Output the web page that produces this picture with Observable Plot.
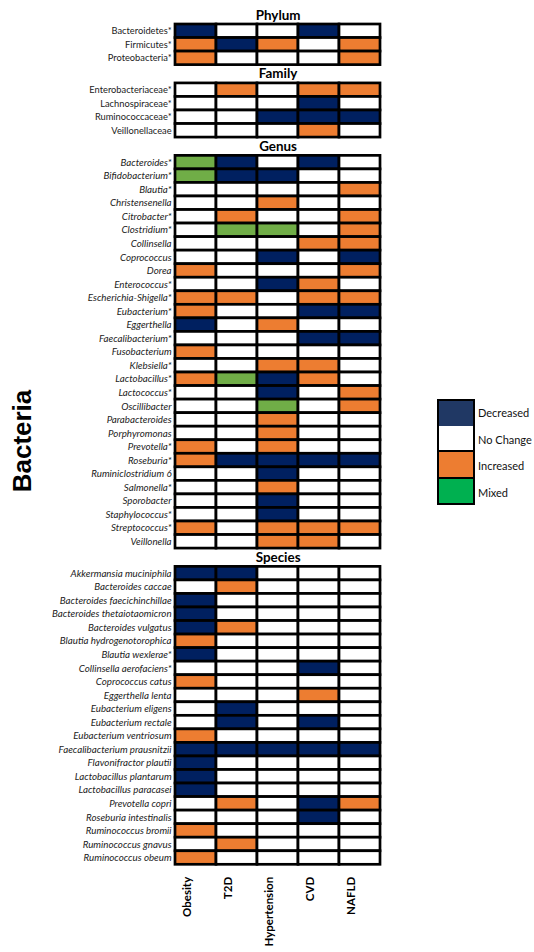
<!DOCTYPE html>
<html>
<head>
<meta charset="utf-8">
<script src="https://cdn.jsdelivr.net/npm/d3@7"></script>
<script src="https://cdn.jsdelivr.net/npm/@observablehq/plot@0.6"></script>
<style>
  html, body { margin: 0; padding: 0; background: #fff; }
  #wrap { position: relative; width: 534px; height: 952px; overflow: hidden; font-family: Lato, "Open Sans", sans-serif; }
  #chart { position: absolute; left: 0; top: 0; }
  #ylab { position: absolute; left: 22px; top: 441px; transform: translate(-50%, -50%) rotate(-90deg); font-family: "Liberation Sans", Arial, sans-serif; font-weight: bold; font-size: 26px; white-space: nowrap; color: #000; }
  #legend { position: absolute; left: 437px; top: 399px; }
  .lrow { position: relative; height: 26.5px; }
  .lbox { position: absolute; left: 0; top: 0; width: 34px; height: 24.5px; border: 2px solid #000; }
  .lrow + .lrow .lbox { border-top: none; height: 24.5px; top: 0; }
  .ltxt { position: absolute; left: 41px; top: 50%; transform: translateY(-50%); font-size: 11px; white-space: nowrap; color: #111; }
</style>
</head>
<body>
<div id="wrap">
  <div id="chart"></div>
  <div id="ylab">Bacteria</div>
  <div id="legend"></div>
</div>
<script>
// ---------------- data ----------------
const diseases = ["Obesity", "T2D", "Hypertension", "CVD", "NAFLD"];

const statusCodes = ["D", "N", "I", "M"];
const statusLabels = ["Decreased", "No Change", "Increased", "Mixed"];
const cellColors = ["#002060", "#ffffff", "#ED7D31", "#70AD47"];
const legendColors = ["#203864", "#ffffff", "#ED7D31", "#00B050"];

const sectionTitles = ["Phylum", "Family", "Genus", "Species"];

const phylumNames = ["Bacteroidetes*", "Firmicutes*", "Proteobacteria*"];
const phylumValues = [
  ["D","N","N","D","N"],
  ["I","D","I","N","I"],
  ["I","N","N","N","I"]
];

const familyNames = ["Enterobacteriaceae*", "Lachnospiraceae*", "Ruminococcaceae*", "Veillonellaceae"];
const familyValues = [
  ["N","I","N","I","I"],
  ["N","N","N","D","N"],
  ["N","N","D","D","D"],
  ["N","N","N","I","N"]
];

const genusNames = ["Bacteroides*", "Bifidobacterium*", "Blautia*", "Christensenella", "Citrobacter*",
  "Clostridium*", "Collinsella", "Coprococcus", "Dorea", "Enterococcus*", "Escherichia-Shigella*",
  "Eubacterium*", "Eggerthella", "Faecalibacterium*", "Fusobacterium", "Klebsiella*", "Lactobacillus*",
  "Lactococcus*", "Oscillibacter", "Parabacteroides", "Porphyromonas", "Prevotella*", "Roseburia*",
  "Ruminiclostridium 6", "Salmonella*", "Sporobacter", "Staphylococcus*", "Streptococcus*", "Veillonella"];
const genusValues = [
  ["M","D","N","D","N"],
  ["M","D","D","N","N"],
  ["N","N","N","N","I"],
  ["N","N","I","N","N"],
  ["N","I","N","N","I"],
  ["N","M","M","N","I"],
  ["N","N","N","I","I"],
  ["N","N","D","N","D"],
  ["I","N","N","N","I"],
  ["N","N","D","I","N"],
  ["I","I","N","I","I"],
  ["I","N","N","D","D"],
  ["D","N","I","N","N"],
  ["N","N","N","D","D"],
  ["I","N","N","N","N"],
  ["N","N","I","I","N"],
  ["I","M","D","I","N"],
  ["N","N","D","N","I"],
  ["N","N","M","N","I"],
  ["N","N","I","N","N"],
  ["N","N","I","N","N"],
  ["I","N","I","N","N"],
  ["I","D","D","D","D"],
  ["N","N","D","N","N"],
  ["N","N","I","N","N"],
  ["N","N","D","N","N"],
  ["N","N","D","N","N"],
  ["I","N","I","I","I"],
  ["N","N","I","I","N"]
];

const speciesNames = ["Akkermansia muciniphila", "Bacteroides caccae", "Bacteroides faecichinchillae",
  "Bacteroides thetaiotaomicron", "Bacteroides vulgatus", "Blautia hydrogenotorophica", "Blautia wexlerae*",
  "Collinsella aerofaciens*", "Coprococcus catus", "Eggerthella lenta", "Eubacterium eligens",
  "Eubacterium rectale", "Eubacterium ventriosum", "Faecalibacterium prausnitzii", "Flavonifractor plautii",
  "Lactobacillus plantarum", "Lactobacillus paracasei", "Prevotella copri", "Roseburia intestinalis",
  "Ruminococcus bromii", "Ruminococcus gnavus", "Ruminococcus obeum"];
const speciesValues = [
  ["D","D","N","N","N"],
  ["N","I","N","N","N"],
  ["D","N","N","N","N"],
  ["D","N","N","N","N"],
  ["D","I","N","N","N"],
  ["I","N","N","N","N"],
  ["D","N","N","N","N"],
  ["N","N","N","D","N"],
  ["I","N","N","N","N"],
  ["N","N","N","I","N"],
  ["N","D","N","N","N"],
  ["N","D","N","D","N"],
  ["I","N","N","N","N"],
  ["D","D","D","D","D"],
  ["D","N","N","N","N"],
  ["D","N","N","N","N"],
  ["D","N","N","N","N"],
  ["N","I","N","D","I"],
  ["N","N","N","D","N"],
  ["I","N","N","N","N"],
  ["N","I","N","N","N"],
  ["I","N","N","N","N"]
];

// ---------------- layout (row units) ----------------
const GAP = 1.35;
const sections = [
  {title: sectionTitles[0], names: phylumNames, values: phylumValues, italic: false},
  {title: sectionTitles[1], names: familyNames, values: familyValues, italic: false},
  {title: sectionTitles[2], names: genusNames, values: genusValues, italic: true},
  {title: sectionTitles[3], names: speciesNames, values: speciesValues, italic: true}
];
const rows = [];
const cells = [];
let u = 0;
sections.forEach((s, si) => {
  if (si > 0) u += GAP;
  s.top = u;
  s.names.forEach((name, i) => {
    rows.push({name, y1: u, y2: u + 1, italic: s.italic});
    s.values[i].forEach((v, j) => cells.push({disease: diseases[j], status: v, y1: u, y2: u + 1}));
    u += 1;
  });
});
const total = u;

const topPx = 24, bottomPx = 864.3;
const chart = Plot.plot({
  width: 534,
  height: 952,
  marginLeft: 174.6,
  marginRight: 153.4,
  marginTop: topPx,
  marginBottom: 952 - bottomPx,
  style: {fontFamily: "Lato, 'Open Sans', sans-serif", background: "transparent", color: "#222"},
  x: {domain: diseases, padding: 0, axis: null},
  y: {domain: [0, total], range: [topPx, bottomPx], axis: null},
  color: {domain: statusCodes, range: cellColors},
  marks: [
    Plot.barY(cells, {x: "disease", y1: "y1", y2: "y2", fill: "status", stroke: "#000", strokeWidth: 2.7}),
    Plot.text(rows.filter(r => !r.italic), {y: r => r.y1 + 0.5, text: "name", frameAnchor: "left", textAnchor: "end", dx: -3.5, fontSize: 9.3, fill: "#222"}),
    Plot.text(rows.filter(r => r.italic), {y: r => r.y1 + 0.5, text: "name", frameAnchor: "left", textAnchor: "end", dx: -3.5, fontSize: 9.75, fontStyle: "italic", fill: "#222"}),
    Plot.text(sections, {y: s => s.top - 0.68, text: "title", frameAnchor: "middle", fontWeight: "bold", fontSize: 13.4, fill: "#000"}),
    Plot.text(diseases, {x: d => d, y: () => total, dy: 12, dx: -9, text: d => d, rotate: -90, textAnchor: "end", fontWeight: "bold", fontSize: 11.5, fill: "#000"})
  ]
});
document.getElementById("chart").appendChild(chart);

// ---------------- legend ----------------
const legend = document.getElementById("legend");
statusLabels.forEach((lab, i) => {
  const row = document.createElement("div");
  row.className = "lrow";
  const box = document.createElement("div");
  box.className = "lbox";
  box.style.background = legendColors[i];
  const txt = document.createElement("div");
  txt.className = "ltxt";
  txt.textContent = lab;
  row.appendChild(box);
  row.appendChild(txt);
  legend.appendChild(row);
});
</script>
</body>
</html>
